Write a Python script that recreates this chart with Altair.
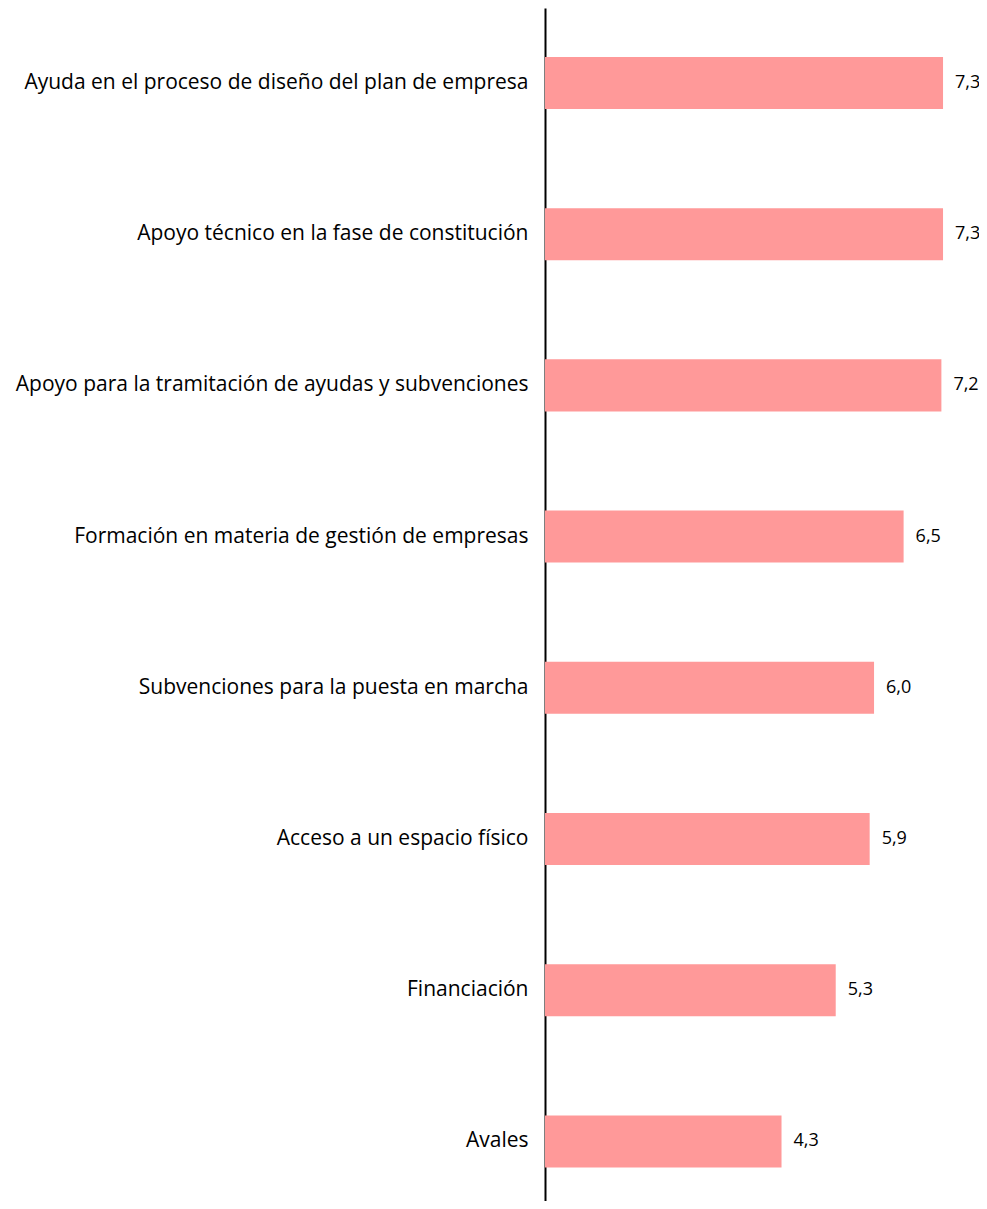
import altair as alt
import pandas as pd

categories = [
    "Ayuda en el proceso de diseño del plan de empresa",
    "Apoyo técnico en la fase de constitución",
    "Apoyo para la tramitación de ayudas y subvenciones",
    "Formación en materia de gestión de empresas",
    "Subvenciones para la puesta en marcha",
    "Acceso a un espacio físico",
    "Financiación",
    "Avales",
]
values = [7.27, 7.27, 7.24, 6.55, 6.01, 5.93, 5.31, 4.32]
value_labels = ["7,3", "7,3", "7,2", "6,5", "6,0", "5,9", "5,3", "4,3"]

df = pd.DataFrame({"cat": categories, "val": values, "lab": value_labels})

FONT = "Open Sans"

y_enc = alt.Y(
    "cat:N",
    sort=categories,
    scale=alt.Scale(paddingInner=0.656, paddingOuter=0.273, align=0.593),
    axis=alt.Axis(
        title=None,
        ticks=False,
        domainColor="black",
        domainWidth=2,
        labelFont=FONT,
        labelFontSize=21,
        labelColor="black",
        labelPadding=17,
        labelLimit=1000,
        grid=False,
    ),
)
x_enc = alt.X("val:Q", scale=alt.Scale(domain=[0, 7.927], nice=False), axis=None)

bars = alt.Chart(df).mark_bar(color="#FF9999").encode(x=x_enc, y=y_enc)
text = alt.Chart(df).mark_text(
    align="left", baseline="middle", dx=12, font=FONT, fontSize=18, color="black"
).encode(x=alt.X("val:Q"), y=alt.Y("cat:N", sort=categories), text="lab:N")

chart = (
    alt.layer(bars, text)
    .properties(
        width=434,
        height=1193,
        autosize=alt.AutoSizeParams(type="none"),
        padding={"left": 537, "top": 0, "right": 0, "bottom": 0},
    )
    .configure_view(stroke=None)
)

chart.save("out.html", embed_options={"renderer": "svg", "actions": False})
